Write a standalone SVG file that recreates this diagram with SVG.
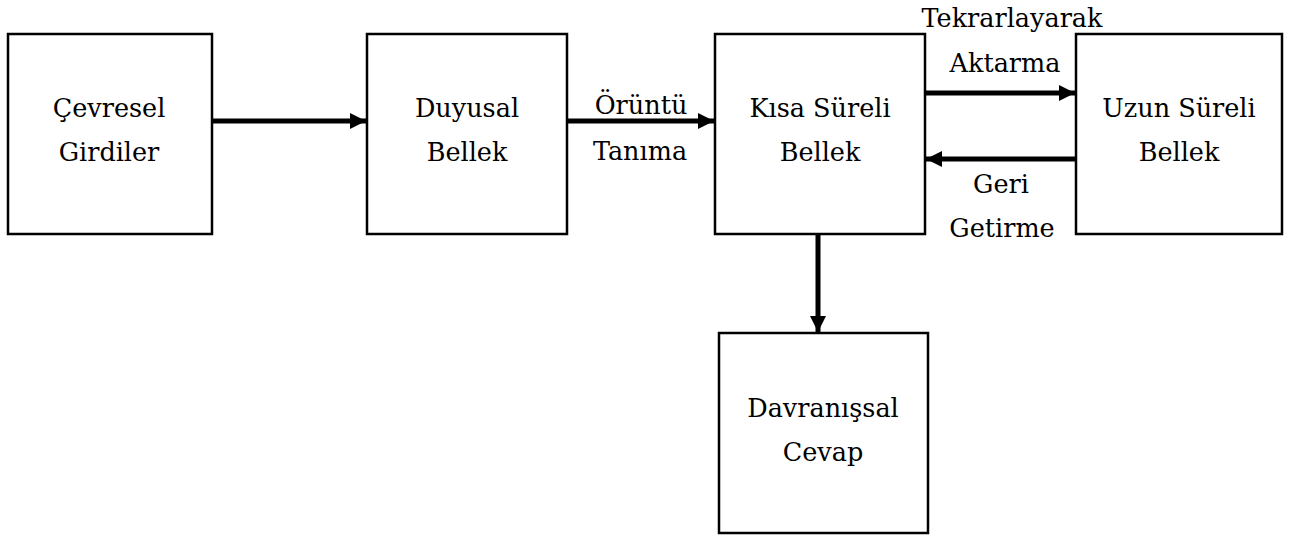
<svg xmlns="http://www.w3.org/2000/svg" width="1295" height="536" viewBox="0 0 1295 536">
  <style>
    .box { fill: #ffffff; stroke: #000000; stroke-width: 2.5; }
    .lbl { font-family: 'DejaVu Serif', serif; font-size: 25.5px; fill: #000000; text-anchor: middle; }
    .edge { stroke: #000000; stroke-width: 5; fill: none; }
  </style>
  <defs>
    <marker id="head" viewBox="0 0 10 10" refX="10" refY="5" markerWidth="3.4" markerHeight="3.2" markerUnits="strokeWidth" orient="auto">
      <path d="M0,0 L10,5 L0,10 Z" fill="#000000"/>
    </marker>
  </defs>
  <rect width="1295" height="536" fill="#ffffff"/>

  <g id="cevresel-girdiler">
    <rect class="box" x="8" y="34" width="204" height="200"/>
    <text class="lbl" x="109" y="117">Çevresel</text>
    <text class="lbl" x="109" y="161">Girdiler</text>
  </g>

  <g id="duyusal-bellek">
    <rect class="box" x="367" y="34" width="200" height="200"/>
    <text class="lbl" x="467" y="117">Duyusal</text>
    <text class="lbl" x="467" y="161">Bellek</text>
  </g>

  <g id="kisa-sureli-bellek">
    <rect class="box" x="715" y="34" width="210" height="200"/>
    <text class="lbl" x="820" y="117">Kısa Süreli</text>
    <text class="lbl" x="820" y="161">Bellek</text>
  </g>

  <g id="uzun-sureli-bellek">
    <rect class="box" x="1076" y="34" width="206" height="200"/>
    <text class="lbl" x="1179" y="117">Uzun Süreli</text>
    <text class="lbl" x="1179" y="161">Bellek</text>
  </g>

  <g id="davranissal-cevap">
    <rect class="box" x="719" y="333" width="209" height="200"/>
    <text class="lbl" x="823" y="417">Davranışsal</text>
    <text class="lbl" x="823" y="461">Cevap</text>
  </g>

  <g id="connectors">
    <line class="edge" x1="213" y1="121" x2="366" y2="121" marker-end="url(#head)"/>
    <line class="edge" x1="568" y1="121" x2="714" y2="121" marker-end="url(#head)"/>
    <line class="edge" x1="926" y1="93" x2="1075" y2="93" marker-end="url(#head)"/>
    <line class="edge" x1="1075" y1="159" x2="926" y2="159" marker-end="url(#head)"/>
    <line class="edge" x1="818" y1="235" x2="818" y2="332" marker-end="url(#head)"/>
    <text class="lbl" x="641" y="114">Örüntü</text>
    <text class="lbl" x="640" y="160">Tanıma</text>
    <text class="lbl" x="1012" y="27">Tekrarlayarak</text>
    <text class="lbl" x="1005" y="72">Aktarma</text>
    <text class="lbl" x="1001" y="193">Geri</text>
    <text class="lbl" x="1002" y="237">Getirme</text>
  </g>
</svg>
